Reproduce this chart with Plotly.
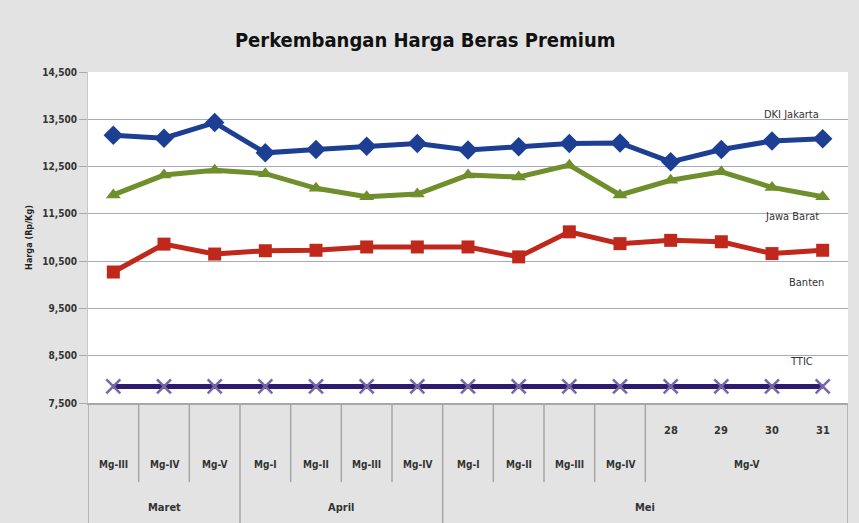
import plotly.graph_objects as go

# ---- data ----
weeks = ["Mg-III", "Mg-IV", "Mg-V", "Mg-I", "Mg-II", "Mg-III", "Mg-IV",
         "Mg-I", "Mg-II", "Mg-III", "Mg-IV", "Mg-V", "Mg-V", "Mg-V", "Mg-V"]
days = ["", "", "", "", "", "", "", "", "", "", "", "28", "29", "30", "31"]
months = ["Maret"] * 3 + ["April"] * 4 + ["Mei"] * 8

dki_jakarta = [13160, 13100, 13430, 12790, 12860, 12930, 12990, 12850, 12920,
               12990, 13000, 12600, 12860, 13040, 13090]
jawa_barat = [11900, 12320, 12420, 12350, 12040, 11860, 11920, 12320, 12280,
              12530, 11900, 12210, 12390, 12060, 11860]
banten = [10270, 10860, 10650, 10720, 10730, 10800, 10800, 10800, 10590,
          11120, 10870, 10940, 10910, 10660, 10730]
ttic = [7850] * 15

y_ticks = [7500, 8500, 9500, 10500, 11500, 12500, 13500, 14500]

FONT = "DejaVu Sans Condensed, Liberation Sans Narrow, sans-serif"
LBL = dict(family=FONT, size=10, color="#333333", weight="bold")
x = list(range(len(weeks)))

fig = go.Figure()
fig.add_trace(go.Scatter(x=x, y=dki_jakarta, mode="lines+markers", name="DKI Jakarta",
                         line=dict(color="#1c3f94", width=5),
                         marker=dict(symbol="diamond", size=15, color="#1c3f94")))
fig.add_trace(go.Scatter(x=x, y=jawa_barat, mode="lines+markers", name="Jawa Barat",
                         line=dict(color="#6f8f2c", width=5),
                         marker=dict(symbol="triangle-up", size=13, color="#6f8f2c")))
fig.add_trace(go.Scatter(x=x, y=banten, mode="lines+markers", name="Banten",
                         line=dict(color="#c0281c", width=5),
                         marker=dict(symbol="square", size=13, color="#c0281c")))
fig.add_trace(go.Scatter(x=x, y=ttic, mode="lines+markers", name="TTIC",
                         line=dict(color="#2e1a6e", width=5),
                         marker=dict(symbol="x-thin", size=14, color="#7468a8",
                                     line=dict(color="#7468a8", width=2.5))))

shapes = []
full = [-0.5, 2.5, 6.5, 14.5]
weekb = [0.5, 1.5, 3.5, 4.5, 5.5, 7.5, 8.5, 9.5, 10.5]
for b in full:
    shapes.append(dict(type="line", xref="x", yref="paper", x0=b, x1=b, y0=0, y1=-0.37,
                       line=dict(color="#a8a8a8", width=1.5)))
for b in weekb:
    shapes.append(dict(type="line", xref="x", yref="paper", x0=b, x1=b, y0=0, y1=-0.239,
                       line=dict(color="#a8a8a8", width=1.5)))

ann = []
for i, w in enumerate(weeks[:11]):
    ann.append(dict(x=i, y=-0.187, xref="x", yref="paper", yanchor="middle", text=w,
                    showarrow=False, font=LBL))
ann.append(dict(x=(11 + 14) / 2, y=-0.187, xref="x", yref="paper", yanchor="middle",
                text=weeks[11], showarrow=False, font=LBL))
for i, d in enumerate(days):
    if d:
        ann.append(dict(x=i, y=-0.082, xref="x", yref="paper", yanchor="middle", text=d,
                        showarrow=False, font=dict(LBL, size=11)))
groups = {}
for i, m in enumerate(months):
    groups.setdefault(m, []).append(i)
for m, idx in groups.items():
    ann.append(dict(x=(idx[0] + idx[-1]) / 2, y=-0.317, xref="x", yref="paper",
                    yanchor="middle", text=m, showarrow=False, font=dict(LBL, size=11)))

SER = dict(family=FONT, size=11, color="#333333")
ann += [
    dict(x=13.39, y=13610, xref="x", yref="y", text="DKI Jakarta", showarrow=False, font=SER),
    dict(x=13.39, y=11450, xref="x", yref="y", text="Jawa Barat", showarrow=False, font=SER),
    dict(x=13.69, y=10040, xref="x", yref="y", text="Banten", showarrow=False, font=SER),
    dict(x=13.59, y=8370, xref="x", yref="y", text="TTIC", showarrow=False, font=SER),
]

fig.update_layout(
    width=859, height=523,
    margin=dict(l=88, r=11, t=72, b=120, autoexpand=False),
    paper_bgcolor="#e3e3e3", plot_bgcolor="#ffffff",
    showlegend=False,
    title=dict(text="<b>Perkembangan Harga Beras Premium</b>", x=0.495, xanchor="center",
               y=0.923, yanchor="middle",
               font=dict(family=FONT, size=20, color="#111111")),
    xaxis=dict(range=[-0.5, 14.5], showticklabels=False, showgrid=False, zeroline=False,
               showline=True, linecolor="#a8a8a8", linewidth=1.5, fixedrange=True,
               automargin=False),
    yaxis=dict(range=[7500, 14500], tickvals=y_ticks, tickformat=",",
               showgrid=True, gridcolor="#a9a9bd", gridwidth=1.2, zeroline=False,
               ticks="outside", ticklen=8, tickcolor="#a9a9bd",
               tickfont=dict(family=FONT, size=10, color="#333333", weight="bold"),
               showline=True, linecolor="#c8c8c8", automargin=False,
               title=dict(text="<b>Harga (Rp/Kg)</b>", standoff=8,
                          font=dict(family=FONT, size=9, color="#222222"))),
    shapes=shapes, annotations=ann,
)

fig.write_html("out.html", config={"displayModeBar": False},
               post_script="document.body.style.margin='0';document.body.style.overflow='hidden';")
